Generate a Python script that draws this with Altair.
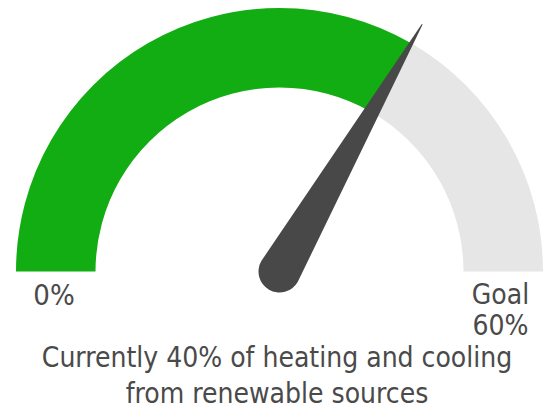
import math
import altair as alt
import pandas as pd

# ---- data ----
segment_labels = ["Current", "Remaining to goal"]
current_value = 40
goal_value = 60
start_label = "0%"
goal_label = ["Goal", "60%"]
caption_lines = ["Currently 40% of heating and cooling", "from renewable sources"]

# ---- style ----
GREEN = "#12ad12"
GREY = "#e6e6e6"
NEEDLE = "#484848"
TEXT = "#4a4a4a"
FONT = "DejaVu Sans Condensed, sans-serif"
W, H = 536, 401
CX, CY = 271.5, 262.5
R_OUT, R_IN = 263.5, 184
NEEDLE_REACH = 1.082
NEEDLE_BASE = 42

seg = pd.DataFrame({
    "label": segment_labels,
    "value": [current_value, goal_value - current_value],
    "order": [0, 1],
})

angle = math.pi * current_value / goal_value
needle = pd.DataFrame({
    "reach": [0.0, NEEDLE_REACH],
    "width": [NEEDLE_BASE, 0],
})
needle["nx"] = -math.cos(angle) * needle["reach"]
needle["ny"] = math.sin(angle) * needle["reach"]

xscale = alt.Scale(domain=[-1, 1], range=[CX - R_OUT, CX + R_OUT], nice=False, zero=False)
yscale = alt.Scale(domain=[-1, 1], range=[CY + R_OUT, CY - R_OUT], nice=False, zero=False)

arcs = alt.Chart(seg).mark_arc(radius=R_OUT, radius2=R_IN).encode(
    theta=alt.Theta("value:Q", stack=True,
                    scale=alt.Scale(domain=[0, goal_value], range=[-math.pi / 2, math.pi / 2])),
    color=alt.Color("label:N", scale=alt.Scale(domain=segment_labels, range=[GREEN, GREY]), legend=None),
    order=alt.Order("order:Q"),
    x=alt.X(datum=0, type="quantitative", scale=xscale, axis=None),
    y=alt.Y(datum=0, type="quantitative", scale=yscale, axis=None),
)

needle_layer = alt.Chart(needle).mark_trail(color=NEEDLE).encode(
    x=alt.X("nx:Q", scale=xscale, axis=None),
    y=alt.Y("ny:Q", scale=yscale, axis=None),
    size=alt.Size("width:Q", scale=None, legend=None),
    order=alt.Order("reach:Q"),
)

base = alt.Chart(pd.DataFrame({"k": [0]}))

start_text = base.mark_text(font=FONT, fontSize=29, color=TEXT, align="center", baseline="alphabetic").encode(
    x=alt.value(46), y=alt.value(296), text=alt.value(start_label))

goal_text = base.mark_text(font=FONT, fontSize=28, color=TEXT, align="center", baseline="alphabetic",
                           lineHeight=31).encode(
    x=alt.value(492.5), y=alt.value(295), text=alt.value(goal_label))

caption = base.mark_text(font=FONT, fontSize=28, color=TEXT, align="center", baseline="alphabetic",
                         lineHeight=36).encode(
    x=alt.value(269), y=alt.value(358), text=alt.value(caption_lines))

chart = alt.layer(arcs, needle_layer, start_text, goal_text, caption).properties(
    width=W, height=H, padding=0
).configure_view(stroke=None)

chart.save("out.html", embed_options={"renderer": "svg", "actions": False})
